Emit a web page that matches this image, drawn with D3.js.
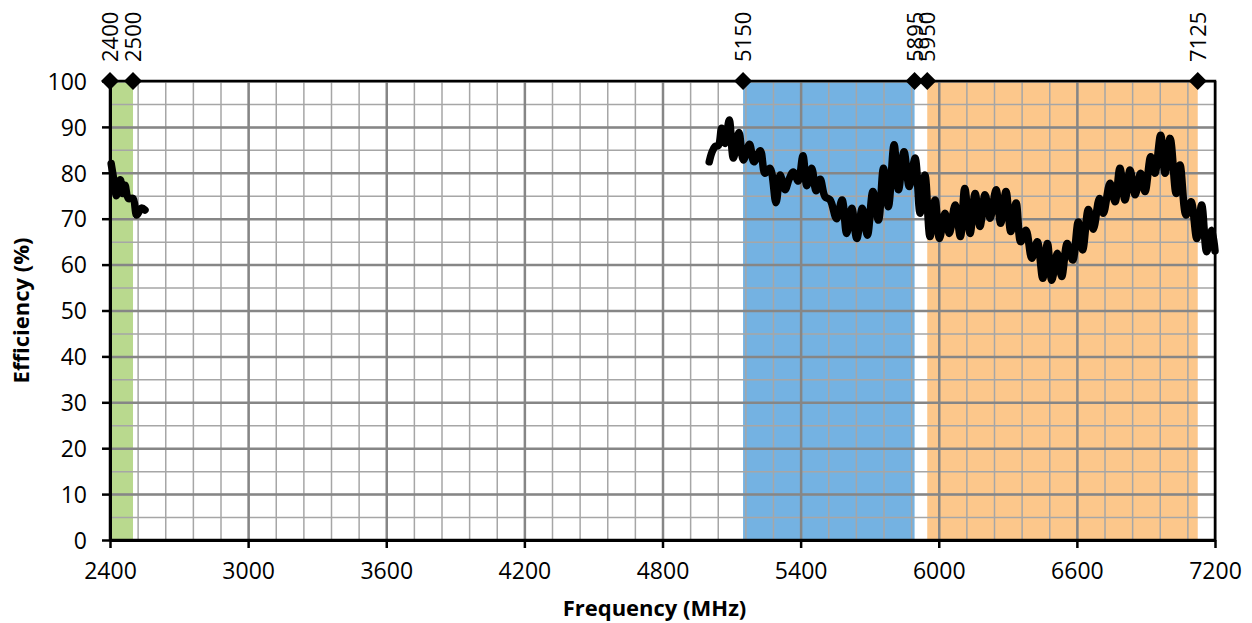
<!DOCTYPE html>
<html>
<head>
<meta charset="utf-8">
<script src="https://cdn.jsdelivr.net/npm/d3@7/dist/d3.min.js"></script>
<style>
	html, body { margin: 0; padding: 0; background: #ffffff; }
	svg text { font-family: 'Open Sans', sans-serif; fill: #000000; }
</style>
</head>
<body>
<div id="chart"></div>
<script>
// band edges (MHz) and their marker labels
var bandStarts = [2400, 5150, 5950];
var bandEnds = [2500, 5895, 7125];
var markerFreqs = [2400, 2500, 5150, 5895, 5950, 7125];

// axis ticks
var xTicks = [2400, 3000, 3600, 4200, 4800, 5400, 6000, 6600, 7200];
var yTicks = [0, 10, 20, 30, 40, 50, 60, 70, 80, 90, 100];

// 2.4 GHz measurement
var lowFreq = [2405, 2418, 2428, 2445, 2455, 2465, 2480, 2500, 2516, 2537, 2552];
var lowEff = [82.0, 78.0, 75.0, 78.5, 75.5, 77.3, 74.4, 74.4, 70.8, 72.3, 71.9];

// 5-7 GHz measurement
var highFreq = [
	5003, 5015, 5028, 5043, 5057, 5072, 5090, 5108, 5132, 5151,
	5178, 5197, 5225, 5245, 5267, 5293, 5311, 5332, 5350, 5368,
	5390, 5410, 5427, 5448, 5467, 5485, 5506, 5528, 5556, 5580,
	5600, 5622, 5644, 5668, 5690, 5714, 5738, 5760, 5781, 5806,
	5825, 5849, 5872, 5897, 5919, 5940, 5962, 5984, 6003, 6027,
	6046, 6071, 6094, 6113, 6136, 6158, 6179, 6201, 6223, 6249,
	6269, 6292, 6313, 6336, 6356, 6379, 6404, 6428, 6452, 6472,
	6491, 6515, 6534, 6558, 6582, 6606, 6625, 6650, 6671, 6698,
	6715, 6744, 6766, 6787, 6809, 6831, 6853, 6877, 6896, 6921,
	6939, 6964, 6983, 7005, 7031, 7048, 7074, 7096, 7121, 7142,
	7164, 7186, 7200
];
var highEff = [
	82.4, 84.5, 85.7, 86.0, 89.7, 86.4, 91.5, 83.2, 88.8, 82.8,
	86.2, 82.4, 84.8, 79.9, 81.0, 73.5, 79.5, 76.3, 78.6, 80.2,
	78.2, 83.7, 77.2, 81.0, 76.1, 78.6, 74.8, 74.1, 70.0, 74.1,
	66.8, 72.3, 65.7, 72.3, 66.4, 75.9, 69.7, 81.0, 72.6, 86.1,
	76.3, 84.6, 77.0, 83.2, 71.2, 79.5, 66.1, 74.1, 65.7, 71.2,
	66.8, 73.0, 66.1, 76.6, 66.8, 75.5, 68.3, 75.2, 70.1, 76.3,
	69.0, 75.9, 67.2, 73.4, 65.0, 67.5, 61.4, 65.0, 57.0, 64.6,
	56.6, 62.5, 57.4, 64.6, 61.0, 69.3, 63.2, 72.0, 67.7, 74.4,
	71.2, 77.7, 73.7, 81.0, 74.1, 80.6, 75.2, 79.9, 75.9, 83.5,
	79.9, 88.2, 79.9, 87.5, 75.5, 81.7, 70.8, 73.7, 65.7, 73.0,
	62.8, 67.5, 63.0
];

(function() {
	'use strict';

	var WIDTH = 1252;
	var HEIGHT = 623;
	var margin = { left: 110, right: 37, top: 81, bottom: 83 };
	var BAND_COLORS = ['#b9d98e', '#74b2e2', '#fcc78b'];
	var MINOR_GRID = '#a6a6a6';
	var MAJOR_GRID = '#868686';
	var TICK_FONT = '23px';
	var TITLE_FONT = '22px';

	var innerW = WIDTH - margin.left - margin.right;
	var innerH = HEIGHT - margin.top - margin.bottom;

	var svg = d3.select('#chart')
		.append('svg')
		.attr('width', WIDTH)
		.attr('height', HEIGHT);

	var g = svg.append('g')
		.attr('transform', 'translate(' + margin.left + ',' + margin.top + ')');

	var x = d3.scaleLinear().domain([2400, 7200]).range([0, innerW]);
	var y = d3.scaleLinear().domain([0, 100]).range([innerH, 0]);

	// frequency bands
	g.selectAll('rect.band')
		.data(d3.range(bandStarts.length))
		.enter().append('rect')
		.attr('class', 'band')
		.attr('x', function(i) { return x(bandStarts[i]); })
		.attr('y', 0)
		.attr('width', function(i) { return x(bandEnds[i]) - x(bandStarts[i]); })
		.attr('height', innerH)
		.attr('fill', function(i) { return BAND_COLORS[i]; });

	// grid lines: minor then major
	function grid(axis, values, color, width) {
		var gg = g.append('g').call(axis.tickValues(values).tickFormat(''));
		gg.select('.domain').remove();
		gg.selectAll('line').attr('stroke', color).attr('stroke-width', width);
		return gg;
	}

	grid(d3.axisBottom(x).tickSize(-innerH), d3.range(2400, 7201, 120), MINOR_GRID, 1.5)
		.attr('transform', 'translate(0,' + innerH + ')');
	grid(d3.axisLeft(y).tickSize(-innerW), d3.range(0, 101, 5), MINOR_GRID, 1.5);
	grid(d3.axisBottom(x).tickSize(-innerH), d3.range(2400, 7201, 600), MAJOR_GRID, 2.5)
		.attr('transform', 'translate(0,' + innerH + ')');
	grid(d3.axisLeft(y).tickSize(-innerW), d3.range(0, 101, 10), MAJOR_GRID, 2.5);

	// efficiency curves
	var line = d3.line()
		.x(function(d) { return x(d[0]); })
		.y(function(d) { return y(d[1]); })
		.curve(d3.curveCatmullRom.alpha(0.5));

	[[lowFreq, lowEff], [highFreq, highEff]].forEach(function(s) {
		g.append('path')
			.datum(d3.zip(s[0], s[1]))
			.attr('d', line)
			.attr('fill', 'none')
			.attr('stroke', '#000000')
			.attr('stroke-width', 7.5)
			.attr('stroke-linejoin', 'round')
			.attr('stroke-linecap', 'round');
	});

	// frame
	g.append('rect')
		.attr('x', 0)
		.attr('y', 0)
		.attr('width', innerW)
		.attr('height', innerH)
		.attr('fill', 'none')
		.attr('stroke', '#000000')
		.attr('stroke-width', 2.5);

	// axes
	var xAxis = g.append('g')
		.attr('transform', 'translate(0,' + innerH + ')')
		.call(d3.axisBottom(x).tickValues(xTicks).tickFormat(d3.format('d'))
			.tickSizeInner(8).tickSizeOuter(0).tickPadding(15));
	var yAxis = g.append('g')
		.call(d3.axisLeft(y).tickValues(yTicks).tickSizeInner(8).tickSizeOuter(0).tickPadding(15));

	[xAxis, yAxis].forEach(function(a) {
		a.select('.domain').attr('stroke', '#000000').attr('stroke-width', 3);
		a.selectAll('.tick line').attr('stroke', '#000000').attr('stroke-width', 2.5);
		a.selectAll('.tick text')
			.style('font-family', "'Open Sans', sans-serif")
			.style('font-size', TICK_FONT)
			.attr('fill', '#000000');
	});
	yAxis.selectAll('.tick text').attr('dy', '0.36em');

	// band edge markers
	g.selectAll('path.marker')
		.data(markerFreqs)
		.enter().append('path')
		.attr('class', 'marker')
		.attr('transform', function(d) { return 'translate(' + x(d) + ',0)'; })
		.attr('d', 'M0,-9L9,0L0,9L-9,0Z')
		.attr('fill', '#000000');

	g.selectAll('text.marker-label')
		.data(markerFreqs)
		.enter().append('text')
		.attr('class', 'marker-label')
		.attr('transform', function(d) { return 'translate(' + (x(d) + 8) + ',-19) rotate(-90)'; })
		.attr('text-anchor', 'start')
		.style('font-size', '22px')
		.text(function(d) { return d; });

	// axis titles
	svg.append('text')
		.attr('x', margin.left + x(4800) - 8)
		.attr('y', 616)
		.attr('text-anchor', 'middle')
		.style('font-size', TITLE_FONT)
		.style('font-weight', 'bold')
		.text('Frequency (MHz)');

	svg.append('text')
		.attr('transform', 'translate(29,' + (margin.top + y(50)) + ') rotate(-90)')
		.attr('text-anchor', 'middle')
		.style('font-size', TITLE_FONT)
		.style('font-weight', 'bold')
		.text('Efficiency (%)');
}());
</script>
</body>
</html>
